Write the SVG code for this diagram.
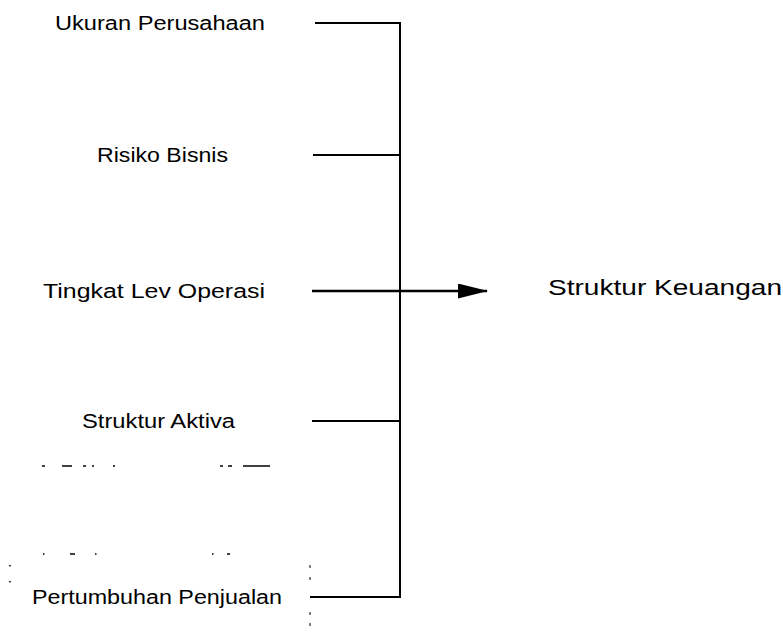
<svg xmlns="http://www.w3.org/2000/svg" width="783" height="637" viewBox="0 0 783 637">
<style>
text{font-family:"Liberation Sans",Arial,sans-serif;fill:#000;font-size:20px}
.ln{stroke:#000;stroke-width:2;fill:none}
.mk{stroke:#000;stroke-width:1.5;fill:none}
.dt{stroke:#000;stroke-width:1;fill:none}
</style>
<defs>
<marker id="ah" markerWidth="30" markerHeight="15" refX="29" refY="7.5" orient="auto" markerUnits="userSpaceOnUse" viewBox="0 0 30 15">
<path d="M0,0 L30,7.5 L0,15 Z" fill="#000"/>
</marker>
</defs>
<g id="n1"><text x="55" y="30" textLength="210" lengthAdjust="spacingAndGlyphs">Ukuran Perusahaan</text></g>
<g id="n2"><text x="97" y="162" textLength="131" lengthAdjust="spacingAndGlyphs">Risiko Bisnis</text></g>
<g id="n3"><text x="43" y="298" textLength="222" lengthAdjust="spacingAndGlyphs">Tingkat  Lev  Operasi</text></g>
<g id="n4"><text x="82" y="428" textLength="153" lengthAdjust="spacingAndGlyphs">Struktur Aktiva</text></g>
<g id="n5"><text x="32" y="604" textLength="250" lengthAdjust="spacingAndGlyphs">Pertumbuhan Penjualan</text></g>
<g id="n6"><text x="548" y="295" textLength="234" lengthAdjust="spacingAndGlyphs" style="font-size:22px">Struktur Keuangan</text></g>
<g id="connectors">
<line class="ln" x1="315" y1="23" x2="401" y2="23"/>
<line class="ln" x1="313" y1="155" x2="401" y2="155"/>
<line class="ln" x1="312" y1="421" x2="401" y2="421"/>
<line class="ln" x1="310" y1="597" x2="401" y2="597"/>
<line class="ln" x1="400" y1="22" x2="400" y2="598"/>
<line class="ln" x1="312" y1="291" x2="487" y2="291" style="stroke-width:2.5" marker-end="url(#ah)"/>
</g>
<g id="scan-marks">
<path class="mk" d="M42,466h3M62,466h10M83,466h3M92,466h2M113,466h2M220,466h3M228,466h4M243,466h27"/>
<path class="mk" d="M43,554h1.5M70,554h5M95,554h1.5M212,554h1.5M227,554h3M10,565v1.5M10,581v1.5"/>
<path class="dt" d="M310,565v3M310,577v3M310,612v3M310,623v3"/>
</g>
</svg>
